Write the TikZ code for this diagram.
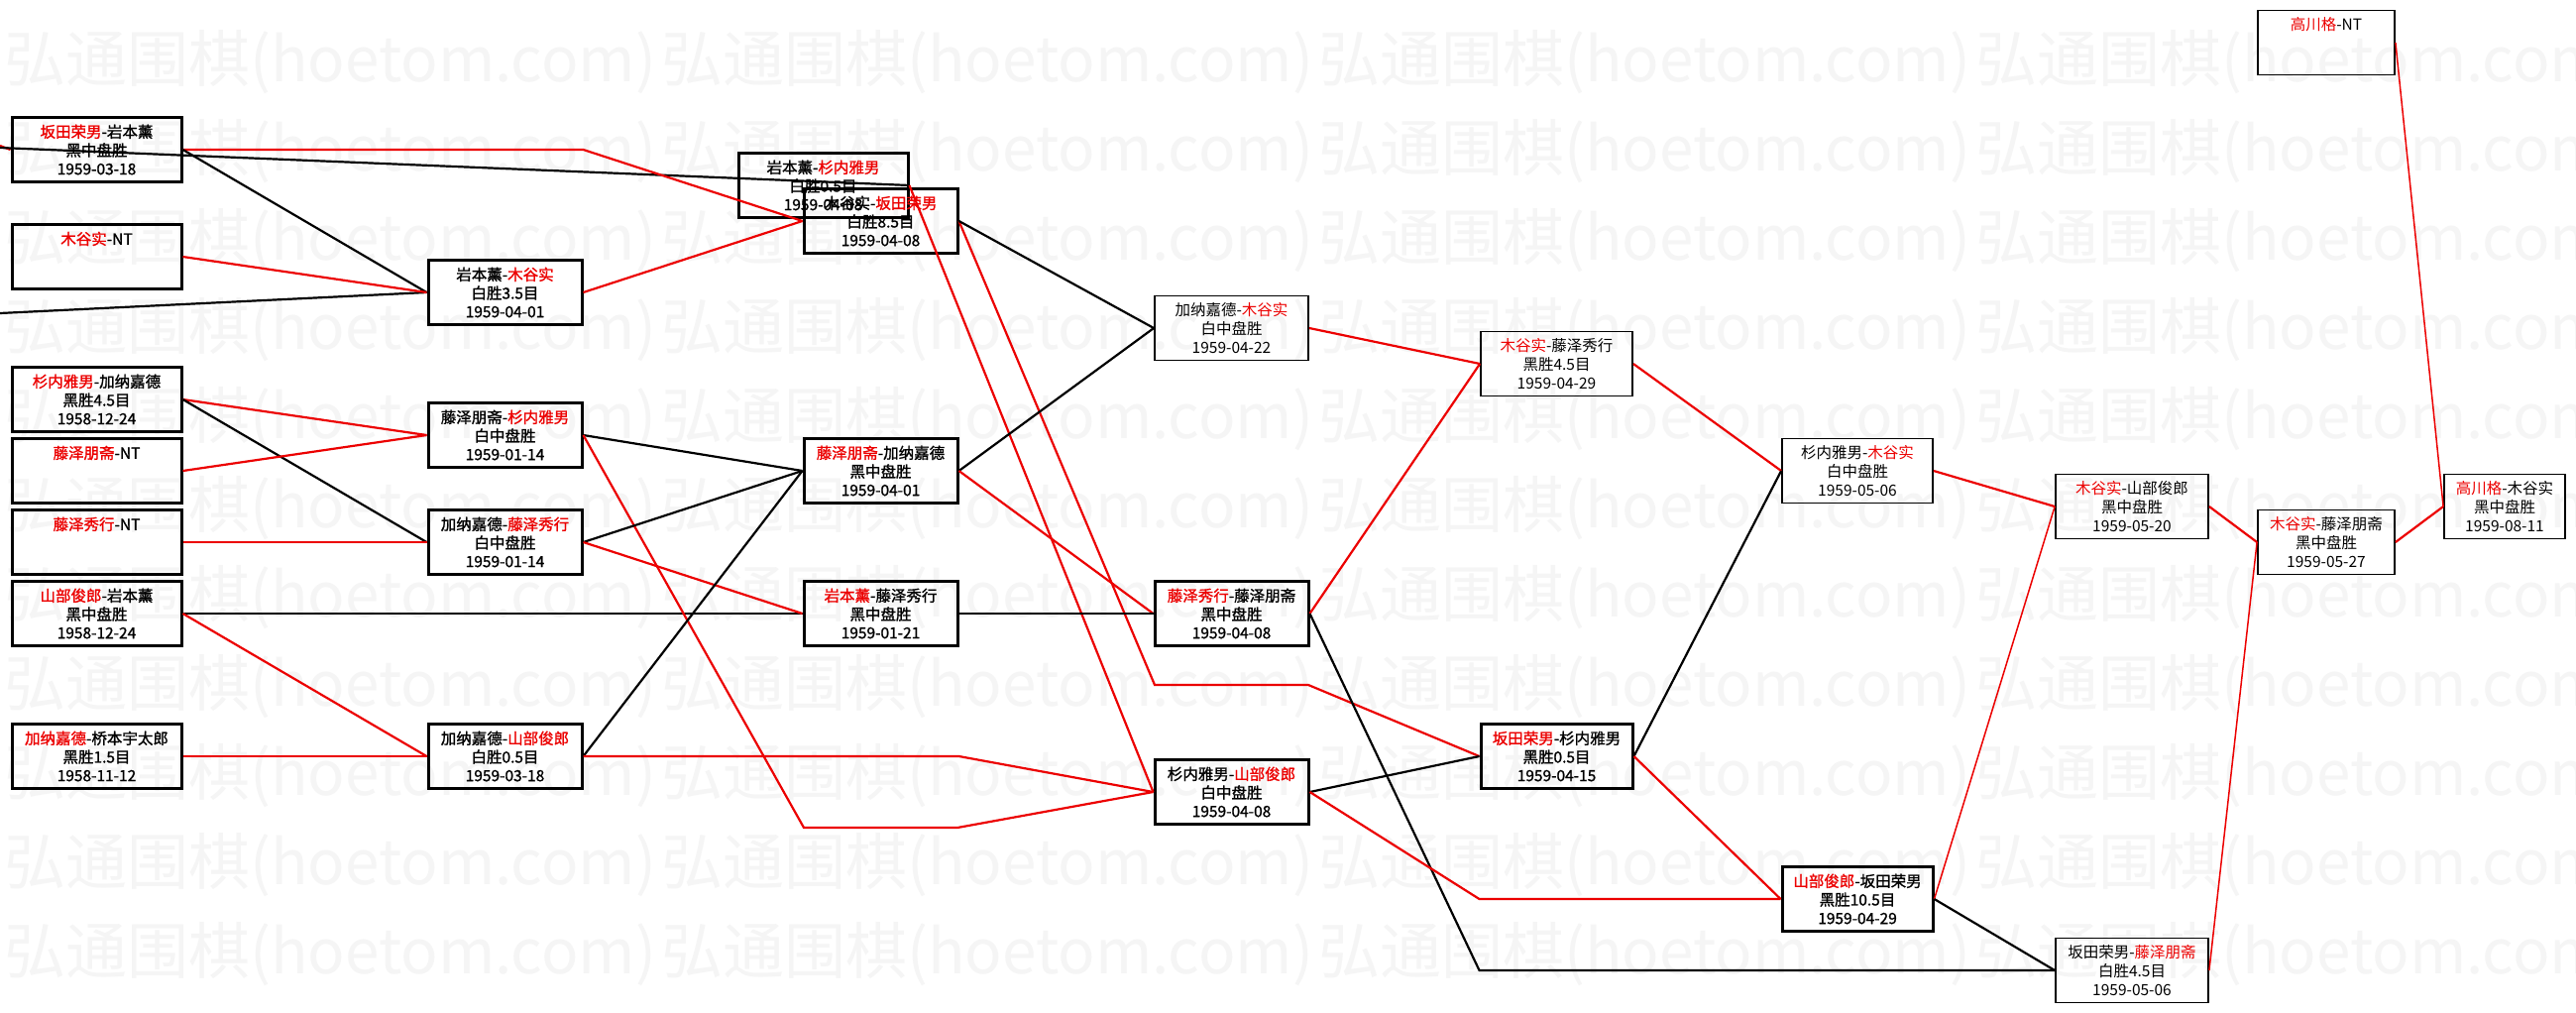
\documentclass[tikz,border=0pt]{standalone}
\usepackage{fontspec}
\setmainfont{Noto Sans CJK SC}
\newfontfamily\gamefont{Noto Sans CJK SC}
\newfontfamily\gamefontb[FakeBold=1.2]{Noto Sans CJK SC}
\usepackage{xcolor}
\definecolor{winred}{RGB}{236,0,0}
\definecolor{markgray}{RGB}{245,245,245}
\newcommand{\win}[1]{\textcolor{winred}{#1}}

\begin{document}
\begin{tikzpicture}[
    x=1pt, y=-1pt,
    game/.style={rectangle, draw, line width=3pt, minimum width=155pt, minimum height=65pt, inner sep=0pt, align=center, font=\gamefontb\fontsize{15.5}{18.7}\selectfont},
    gamewide/.style={game, minimum width=171pt},
    gamelight/.style={game, line width=1.8pt, font=\gamefont\fontsize{15.5}{18.7}\selectfont},
    wline/.style={winred, line width=2.2pt},
    lline/.style={black, line width=2.2pt},
    fineline/.style={line width=1.5pt},
    wmark/.style={anchor=west, inner sep=0pt, text=markgray, font=\fontsize{62}{62}\selectfont}
]
    % Background
    \fill[white] (0,0) rectangle (2599,1021);
    \useasboundingbox (0,0) rectangle (2599,1021);
    \foreach \r in {0,...,10}
        \foreach \c in {0,...,3}
            \node[wmark] (wm\r\c) at (4+663*\c, 63+90*\r) {弘通围棋(hoetom.com)};

    % Round 1
    \node[gamewide] (a1) at (97.5,151) {\win{坂田荣男}-岩本薰\\黑中盘胜\\1959-03-18};
    \node[gamewide] (a2) at (97.5,259) {\win{木谷实}-NT\\\mbox{}\\\mbox{}};
    \node[gamewide] (a3) at (97.5,403) {\win{杉内雅男}-加纳嘉德\\黑胜4.5目\\1958-12-24};
    \node[gamewide] (a4) at (97.5,475) {\win{藤泽朋斋}-NT\\\mbox{}\\\mbox{}};
    \node[gamewide] (a5) at (97.5,547) {\win{藤泽秀行}-NT\\\mbox{}\\\mbox{}};
    \node[gamewide] (a6) at (97.5,619) {\win{山部俊郎}-岩本薰\\黑中盘胜\\1958-12-24};
    \node[gamewide] (a7) at (97.5,763) {\win{加纳嘉德}-桥本宇太郎\\黑胜1.5目\\1958-11-12};

    % Round 2
    \node[game] (c1) at (509.5,295) {岩本薰-\win{木谷实}\\白胜3.5目\\1959-04-01};
    \node[game] (c2) at (509.5,439) {藤泽朋斋-\win{杉内雅男}\\白中盘胜\\1959-01-14};
    \node[game] (c3) at (509.5,547) {加纳嘉德-\win{藤泽秀行}\\白中盘胜\\1959-01-14};
    \node[game] (c4) at (509.5,763) {加纳嘉德-\win{山部俊郎}\\白胜0.5目\\1959-03-18};

    % Round 3
    \node[gamewide] (b1) at (830.5,187) {岩本薰-\win{杉内雅男}\\白胜0.5目\\1959-04-08};
    \node[game] (b2) at (888.5,223) {木谷实-\win{坂田荣男}\\白胜8.5目\\1959-04-08};
    \node[game] (c5) at (888.5,475) {\win{藤泽朋斋}-加纳嘉德\\黑中盘胜\\1959-04-01};
    \node[game] (c6) at (888.5,619) {\win{岩本薰}-藤泽秀行\\黑中盘胜\\1959-01-21};

    % Round 4
    \node[gamelight] (d1) at (1242.5,331) {加纳嘉德-\win{木谷实}\\白中盘胜\\1959-04-22};
    \node[game] (d2) at (1242.5,619) {\win{藤泽秀行}-藤泽朋斋\\黑中盘胜\\1959-04-08};
    \node[game] (d3) at (1242.5,799) {杉内雅男-\win{山部俊郎}\\白中盘胜\\1959-04-08};

    % Round 5
    \node[gamelight, minimum width=153pt] (e1) at (1570.5,367) {\win{木谷实}-藤泽秀行\\黑胜4.5目\\1959-04-29};
    \node[game, minimum width=153pt] (e2) at (1570.5,763) {\win{坂田荣男}-杉内雅男\\黑胜0.5目\\1959-04-15};

    % Round 6
    \node[gamelight, minimum width=152pt] (f1) at (1874,475) {杉内雅男-\win{木谷实}\\白中盘胜\\1959-05-06};
    \node[game, minimum width=152pt] (g1) at (1874,907) {\win{山部俊郎}-坂田荣男\\黑胜10.5目\\1959-04-29};

    % Final rounds
    \node[gamelight, minimum width=154pt] (h1) at (2151,511) {\win{木谷实}-山部俊郎\\黑中盘胜\\1959-05-20};
    \node[gamelight, minimum width=154pt] (h2) at (2151,979) {坂田荣男-\win{藤泽朋斋}\\白胜4.5目\\1959-05-06};
    \node[gamelight, minimum width=138pt] (i1) at (2347,547) {\win{木谷实}-藤泽朋斋\\黑中盘胜\\1959-05-27};
    \node[gamelight, minimum width=138pt] (k0) at (2347,43) {\win{高川格}-NT\\\mbox{}\\\mbox{}};
    \node[gamelight, minimum width=122pt] (j1) at (2527,511) {\win{高川格}-木谷实\\黑中盘胜\\1959-08-11};

    % Free ends and bends
    \coordinate (in1) at (0,147);
    \coordinate (in2) at (0,149);
    \coordinate (in3) at (0,316);
    \coordinate (bend1) at (811,835);
    \coordinate (bend2) at (966,835);
    \coordinate (bend3) at (1165,691);
    \coordinate (bend4) at (1320,691);

    % Edges
    \draw[wline] (in1) -- (a1.west);
    \draw[lline] (in2) -- (b1.east);
    \draw[lline] (in3) -- (c1.west);
    \draw[wline] (a1.east) -- (a1.east -| c1.east) -- (b2.west);
    \draw[lline] (a1.east) -- (c1.west);
    \draw[wline] (a2.east) -- (c1.west);
    \draw[wline] (a3.east) -- (c2.west);
    \draw[lline] (a3.east) -- (c3.west);
    \draw[wline] (a4.east) -- (c2.west);
    \draw[wline] (a5.east) -- (c3.west);
    \draw[lline] (a6.east) -- (c6.west);
    \draw[wline] (a6.east) -- (c4.west);
    \draw[wline] (a7.east) -- (c4.west);
    \draw[wline] (c1.east) -- (b2.west);
    \draw[lline] (c2.east) -- (c5.west);
    \draw[wline] (c2.east) -- (bend1) -- (bend2) -- (d3.west);
    \draw[lline] (c3.east) -- (c5.west);
    \draw[wline] (c3.east) -- (c6.west);
    \draw[lline] (c4.east) -- (c5.west);
    \draw[wline] (c4.east) -- (c4.east -| c6.east) -- (d3.west);
    \draw[wline] (b1.east) -- (d3.west);
    \draw[wline] (b2.east) -- (bend3) -- (bend4) -- (e2.west);
    \draw[lline] (b2.east) -- (d1.west);
    \draw[lline] (c5.east) -- (d1.west);
    \draw[wline] (c5.east) -- (d2.west);
    \draw[lline] (c6.east) -- (d2.west);
    \draw[wline] (d1.east) -- (e1.west);
    \draw[wline] (d2.east) -- (e1.west);
    \draw[lline] (d2.east) -- (h2.west -| e2.west) -- (h2.west);
    \draw[lline] (d3.east) -- (e2.west);
    \draw[wline] (d3.east) -- (g1.west -| e2.west) -- (g1.west);
    \draw[wline] (e1.east) -- (f1.west);
    \draw[lline] (e2.east) -- (f1.west);
    \draw[wline] (e2.east) -- (g1.west);
    \draw[wline] (f1.east) -- (h1.west);
    \draw[wline, fineline] (g1.east) -- (h1.west);
    \draw[lline] (g1.east) -- (h2.west);
    \draw[wline] (h1.east) -- (i1.west);
    \draw[wline, fineline] (h2.east) -- (i1.west);
    \draw[wline] (i1.east) -- (j1.west);
    \draw[wline, fineline] (k0.east) -- (j1.west);
\end{tikzpicture}
\end{document}
